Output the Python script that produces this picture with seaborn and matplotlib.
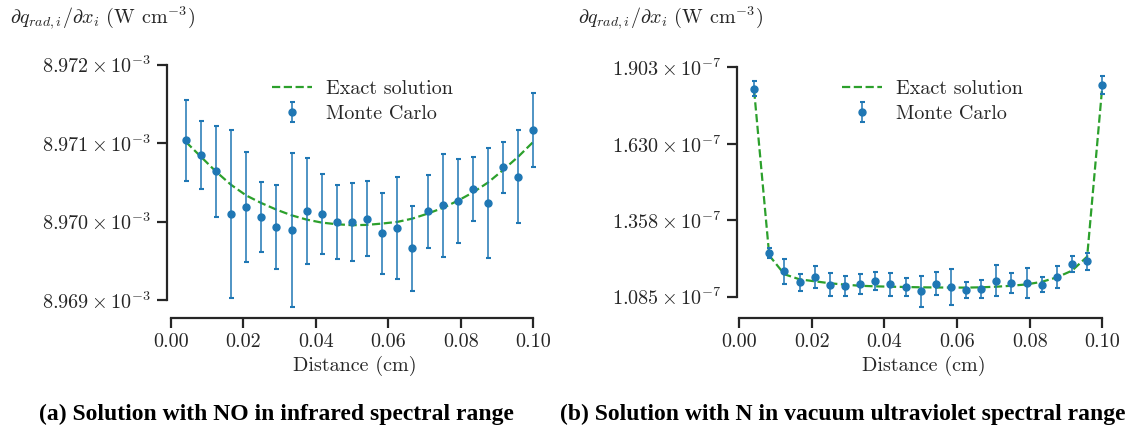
import numpy as np
import pandas as pd
import matplotlib
matplotlib.use("Agg")
import matplotlib.pyplot as plt
import seaborn as sns

# Sampling positions (cm)
distance = [0.00417, 0.00833, 0.01250, 0.01667, 0.02083, 0.02500, 0.02917, 0.03333,
            0.03750, 0.04167, 0.04583, 0.05000, 0.05417, 0.05833, 0.06250, 0.06667,
            0.07083, 0.07500, 0.07917, 0.08333, 0.08750, 0.09167, 0.09583, 0.10000]

# (a) NO, infrared range -- values in units of 1e-3 W cm^-3
ir_exact = [8.971017, 8.970827, 8.970637, 8.970468, 8.970333, 8.970236, 8.970152, 8.970080,
            8.970025, 8.969987, 8.969966, 8.969954, 8.969958, 8.969975, 8.969996, 8.970038,
            8.970101, 8.970173, 8.970266, 8.970371, 8.970498, 8.970658, 8.970827, 8.971017]
ir_mc = [8.971034, 8.970844, 8.970641, 8.970097, 8.970186, 8.970055, 8.969932, 8.969895,
         8.970135, 8.970097, 8.969996, 8.970000, 8.970038, 8.969852, 8.969916, 8.969658,
         8.970131, 8.970207, 8.970262, 8.970418, 8.970241, 8.970692, 8.970574, 8.971165]
ir_err = [0.000515, 0.000435, 0.000578, 0.001070, 0.000698, 0.000447, 0.000532, 0.000979,
          0.000673, 0.000515, 0.000473, 0.000498, 0.000483, 0.000517, 0.000646, 0.000540,
          0.000462, 0.000656, 0.000540, 0.000411, 0.000703, 0.000323, 0.000597, 0.000468]
ir_ticks = [8.969, 8.970, 8.971, 8.972]

# (b) N, vacuum ultraviolet range -- values in units of 1e-7 W cm^-3
vuv_exact = [1.820, 1.232, 1.165, 1.147, 1.140, 1.133, 1.128, 1.124,
             1.122, 1.1207, 1.1196, 1.1185, 1.1180, 1.1175, 1.1175, 1.1185,
             1.1207, 1.124, 1.129, 1.138, 1.154, 1.178, 1.228, 1.836]
vuv_mc = [1.826, 1.240, 1.176, 1.136, 1.154, 1.128, 1.124, 1.129,
          1.140, 1.129, 1.1196, 1.104, 1.131, 1.1185, 1.109, 1.111,
          1.142, 1.133, 1.133, 1.128, 1.155, 1.2016, 1.211, 1.840]
vuv_err = [0.027, 0.017, 0.044, 0.0315, 0.039, 0.042, 0.035, 0.0357,
           0.0315, 0.041, 0.0327, 0.055, 0.041, 0.064, 0.030, 0.032,
           0.055, 0.036, 0.053, 0.028, 0.040, 0.030, 0.030, 0.033]
vuv_ticks = [1.085, 1.3577, 1.6303, 1.903]

x_ticks = [0.00, 0.02, 0.04, 0.06, 0.08, 0.10]

sns.set_theme(style="ticks")
plt.rcParams["font.family"] = ["cmr10", "DejaVu Serif"]
plt.rcParams["mathtext.fontset"] = "cm"
plt.rcParams["axes.unicode_minus"] = False
plt.rcParams["axes.formatter.use_mathtext"] = True

W, H = 1127, 432
fig = plt.figure(figsize=(W / 100, H / 100), dpi=100)

GREEN = "#2ca02c"
BLUE = "#1f77b4"
TXT = "#262626"
FS = 14.5


def fig_rect(left, top, right, bottom):
    return [left / W, 1 - bottom / H, (right - left) / W, (bottom - top) / H]


panels = [
    dict(rect=fig_rect(166.7, 64.7, 542.4, 318.3), exact=ir_exact, mc=ir_mc, err=ir_err,
         ticks=ir_ticks, exp=-3, xlim=(-0.0011, 0.1025), ylim=(8.968767, 8.972),
         ylab_x=10, leg_anchor=(0.280, 0.939),
         caption="(a) Solution with NO in infrared spectral range", cap_x=276),
    dict(rect=fig_rect(736.7, 67.3, 1111.4, 318.3), exact=vuv_exact, mc=vuv_mc, err=vuv_err,
         ticks=vuv_ticks, exp=-7, xlim=(-0.00063, 0.1025), ylim=(1.008, 1.903),
         ylab_x=578, leg_anchor=(0.280, 0.949),
         caption="(b) Solution with N in vacuum ultraviolet spectral range", cap_x=843),
]

for p in panels:
    ax = fig.add_axes(p["rect"])
    df = pd.DataFrame({"distance": distance, "exact": p["exact"],
                       "mc": p["mc"], "err": p["err"]})

    sns.lineplot(data=df, x="distance", y="exact", ax=ax, color=GREEN,
                 linestyle="--", linewidth=1.6, label="Exact solution", zorder=2)
    ax.errorbar(df["distance"], df["mc"], yerr=df["err"], fmt="o", color=BLUE,
                markersize=5, ecolor=BLUE, elinewidth=1.1, capsize=1.8, capthick=1.5,
                label="Monte Carlo", zorder=3)

    ax.set_xlim(*p["xlim"])
    ax.set_ylim(*p["ylim"])
    ax.set_xticks(x_ticks)
    ax.set_xticklabels([f"{t:.2f}" for t in x_ticks])
    ax.set_yticks(p["ticks"])
    ax.set_yticklabels([rf"${t:.3f}\times10^{{{p['exp']}}}$" for t in p["ticks"]])

    for side in ("top", "right"):
        ax.spines[side].set_visible(False)
    ax.spines["left"].set_bounds(p["ticks"][0], p["ticks"][-1])
    ax.spines["bottom"].set_bounds(x_ticks[0], x_ticks[-1])
    for side in ("left", "bottom"):
        ax.spines[side].set_linewidth(1.6)
        ax.spines[side].set_color(TXT)
    ax.tick_params(axis="both", length=7, width=1.6, color=TXT, labelsize=FS,
                   labelcolor=TXT, pad=4)

    ax.set_xlabel("Distance (cm)", fontsize=FS, color=TXT, labelpad=3)
    ax.set_ylabel("")

    fig.text(p["ylab_x"] / W, 1 - 18 / H,
             r"$\partial q_{rad,i}/\partial x_i$ (W cm$^{-3}$)",
             fontsize=FS, color=TXT, ha="left", va="center")

    ax.legend(loc="upper left", bbox_to_anchor=p["leg_anchor"], frameon=False,
              fontsize=FS, borderpad=0, borderaxespad=0, labelspacing=0.35,
              handlelength=2.0, handletextpad=0.7)

    fig.text(p["cap_x"] / W, 1 - 414 / H, p["caption"], fontsize=17,
             fontweight="bold", family="Liberation Serif", color="black",
             ha="center", va="center")

fig.savefig("out.png", dpi=100)
